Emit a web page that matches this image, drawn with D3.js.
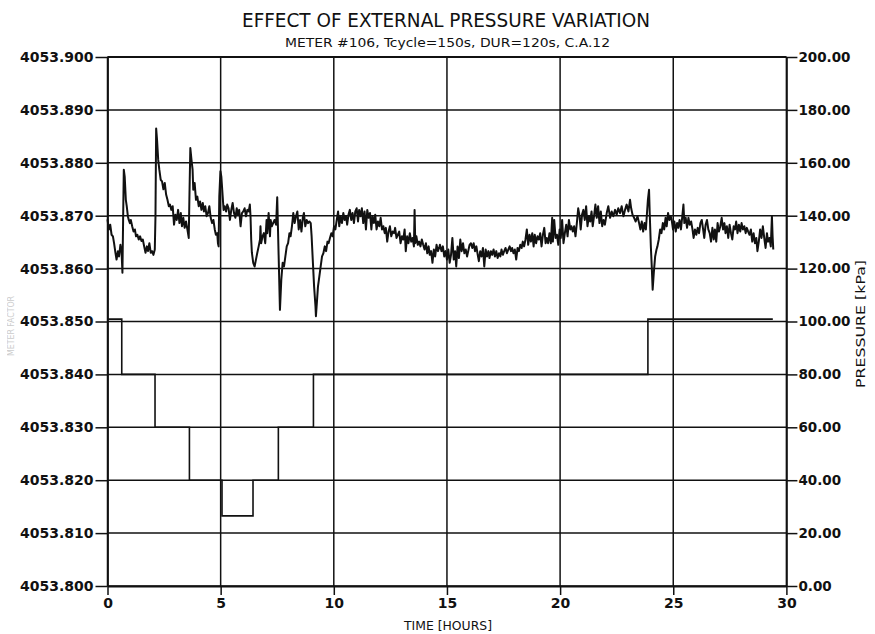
<!DOCTYPE html>
<html>
<head>
<meta charset="utf-8">
<script src="https://cdn.jsdelivr.net/npm/d3@7"></script>
<style>
  html, body { margin: 0; padding: 0; background: #fff; }
  svg { display: block; }
</style>
</head>
<body>
<svg id="chart" width="875" height="634"></svg>
<script>
// Meter factor readings: [elapsed hours, meter factor]
const meterSeries = [
  [0.00,4053.8693],[0.06,4053.8674],[0.12,4053.8683],[0.18,4053.8664],[0.24,4053.8661],[0.29,4053.8648],
  [0.35,4053.8630],[0.40,4053.8617],[0.46,4053.8633],[0.51,4053.8623],[0.57,4053.8645],[0.62,4053.8633],
  [0.66,4053.8592],[0.69,4053.8692],[0.72,4053.8787],[0.76,4053.8774],[0.81,4053.8730],[0.85,4053.8718],
  [0.90,4053.8699],[0.94,4053.8692],[0.99,4053.8686],[1.03,4053.8692],[1.09,4053.8680],[1.15,4053.8670],
  [1.21,4053.8674],[1.26,4053.8661],[1.32,4053.8664],[1.38,4053.8655],[1.44,4053.8661],[1.50,4053.8652],
  [1.56,4053.8655],[1.62,4053.8642],[1.68,4053.8630],[1.74,4053.8642],[1.79,4053.8633],[1.85,4053.8648],
  [1.91,4053.8630],[1.97,4053.8633],[2.03,4053.8626],[2.09,4053.8636],[2.12,4053.8699],[2.15,4053.8865],
  [2.19,4053.8843],[2.24,4053.8806],[2.29,4053.8787],[2.35,4053.8768],[2.41,4053.8765],[2.47,4053.8750],
  [2.53,4053.8762],[2.59,4053.8740],[2.65,4053.8730],[2.71,4053.8718],[2.76,4053.8721],[2.82,4053.8711],
  [2.88,4053.8718],[2.94,4053.8683],[3.00,4053.8702],[3.06,4053.8692],[3.12,4053.8711],[3.18,4053.8686],
  [3.24,4053.8705],[3.29,4053.8680],[3.35,4053.8696],[3.41,4053.8677],[3.47,4053.8689],[3.53,4053.8674],
  [3.59,4053.8658],[3.62,4053.8736],[3.66,4053.8828],[3.71,4053.8806],[3.76,4053.8787],[3.79,4053.8749],
  [3.85,4053.8762],[3.91,4053.8730],[3.97,4053.8736],[4.03,4053.8718],[4.09,4053.8727],[4.15,4053.8711],
  [4.21,4053.8724],[4.26,4053.8708],[4.32,4053.8718],[4.38,4053.8699],[4.44,4053.8705],[4.50,4053.8718],
  [4.56,4053.8696],[4.62,4053.8686],[4.68,4053.8692],[4.74,4053.8674],[4.79,4053.8664],[4.85,4053.8667],
  [4.88,4053.8648],[4.91,4053.8642],[4.94,4053.8736],[4.99,4053.8784],[5.03,4053.8774],[5.09,4053.8736],
  [5.13,4053.8711],[5.18,4053.8718],[5.24,4053.8708],[5.29,4053.8721],[5.35,4053.8714],[5.41,4053.8692],
  [5.47,4053.8711],[5.53,4053.8724],[5.59,4053.8705],[5.65,4053.8696],[5.71,4053.8714],[5.76,4053.8702],
  [5.82,4053.8711],[5.88,4053.8680],[5.94,4053.8705],[6.00,4053.8708],[6.06,4053.8714],[6.12,4053.8699],
  [6.18,4053.8711],[6.24,4053.8708],[6.29,4053.8721],[6.32,4053.8699],[6.35,4053.8655],[6.38,4053.8630],
  [6.44,4053.8611],[6.50,4053.8604],[6.56,4053.8617],[6.62,4053.8630],[6.68,4053.8642],[6.74,4053.8655],
  [6.76,4053.8680],[6.79,4053.8648],[6.85,4053.8661],[6.91,4053.8667],[6.97,4053.8648],[7.03,4053.8692],
  [7.06,4053.8667],[7.12,4053.8705],[7.18,4053.8661],[7.21,4053.8692],[7.26,4053.8680],[7.32,4053.8686],
  [7.38,4053.8692],[7.45,4053.8683],[7.50,4053.8735],[7.62,4053.8522],[7.68,4053.8579],[7.74,4053.8611],
  [7.80,4053.8604],[7.86,4053.8623],[7.92,4053.8642],[7.98,4053.8648],[8.04,4053.8667],[8.09,4053.8661],
  [8.15,4053.8680],[8.21,4053.8705],[8.27,4053.8686],[8.33,4053.8699],[8.39,4053.8708],[8.45,4053.8674],
  [8.51,4053.8692],[8.57,4053.8670],[8.63,4053.8696],[8.68,4053.8705],[8.74,4053.8680],[8.80,4053.8692],
  [8.86,4053.8686],[8.92,4053.8689],[8.98,4053.8686],[9.02,4053.8661],[9.07,4053.8617],[9.13,4053.8566],
  [9.19,4053.8529],[9.21,4053.8510],[9.26,4053.8541],[9.30,4053.8566],[9.36,4053.8585],[9.42,4053.8604],
  [9.48,4053.8623],[9.54,4053.8629],[9.60,4053.8642],[9.66,4053.8633],[9.72,4053.8651],[9.77,4053.8648],
  [9.83,4053.8658],[9.89,4053.8667],[9.95,4053.8661],[10.01,4053.8680],[10.07,4053.8674],[10.13,4053.8692],
  [10.19,4053.8708],[10.24,4053.8680],[10.30,4053.8699],[10.36,4053.8686],[10.42,4053.8705],[10.48,4053.8692],
  [10.54,4053.8699],[10.59,4053.8683],[10.65,4053.8702],[10.71,4053.8711],[10.77,4053.8692],[10.83,4053.8705],
  [10.89,4053.8686],[10.95,4053.8708],[11.01,4053.8714],[11.07,4053.8689],[11.12,4053.8711],[11.18,4053.8699],
  [11.24,4053.8714],[11.30,4053.8686],[11.36,4053.8708],[11.42,4053.8674],[11.48,4053.8711],[11.54,4053.8696],
  [11.60,4053.8705],[11.66,4053.8674],[11.71,4053.8699],[11.77,4053.8686],[11.83,4053.8702],[11.89,4053.8674],
  [11.95,4053.8689],[12.01,4053.8680],[12.07,4053.8696],[12.13,4053.8674],[12.19,4053.8680],[12.25,4053.8667],
  [12.30,4053.8677],[12.36,4053.8651],[12.42,4053.8670],[12.48,4053.8680],[12.54,4053.8661],[12.60,4053.8670],
  [12.66,4053.8667],[12.71,4053.8677],[12.77,4053.8658],[12.83,4053.8664],[12.89,4053.8670],[12.95,4053.8648],
  [13.01,4053.8661],[13.07,4053.8655],[13.13,4053.8674],[13.18,4053.8633],[13.24,4053.8661],[13.30,4053.8648],
  [13.36,4053.8667],[13.42,4053.8651],[13.48,4053.8658],[13.54,4053.8642],[13.57,4053.8711],[13.60,4053.8648],
  [13.65,4053.8661],[13.71,4053.8645],[13.77,4053.8651],[13.83,4053.8642],[13.89,4053.8655],[13.95,4053.8645],
  [14.01,4053.8636],[14.07,4053.8648],[14.13,4053.8629],[14.19,4053.8642],[14.24,4053.8626],[14.30,4053.8633],
  [14.36,4053.8611],[14.42,4053.8636],[14.48,4053.8623],[14.54,4053.8645],[14.60,4053.8633],[14.66,4053.8640],
  [14.69,4053.8645],[14.76,4053.8633],[14.82,4053.8642],[14.88,4053.8623],[14.94,4053.8633],[15.00,4053.8617],
  [15.06,4053.8636],[15.12,4053.8611],[15.18,4053.8626],[15.24,4053.8658],[15.30,4053.8617],[15.36,4053.8633],
  [15.41,4053.8604],[15.47,4053.8642],[15.53,4053.8620],[15.59,4053.8655],[15.65,4053.8633],[15.71,4053.8648],
  [15.77,4053.8629],[15.83,4053.8636],[15.89,4053.8623],[15.94,4053.8633],[16.00,4053.8645],[16.06,4053.8648],
  [16.12,4053.8639],[16.18,4053.8648],[16.24,4053.8633],[16.30,4053.8642],[16.36,4053.8626],[16.41,4053.8614],
  [16.47,4053.8633],[16.53,4053.8623],[16.59,4053.8639],[16.65,4053.8604],[16.71,4053.8636],[16.77,4053.8623],
  [16.83,4053.8633],[16.88,4053.8620],[16.94,4053.8633],[17.00,4053.8626],[17.06,4053.8636],[17.12,4053.8623],
  [17.18,4053.8633],[17.24,4053.8620],[17.30,4053.8629],[17.36,4053.8623],[17.41,4053.8636],[17.47,4053.8626],
  [17.53,4053.8633],[17.59,4053.8639],[17.65,4053.8629],[17.71,4053.8636],[17.77,4053.8642],[17.83,4053.8633],
  [17.88,4053.8639],[17.94,4053.8629],[18.00,4053.8636],[18.06,4053.8617],[18.12,4053.8639],[18.18,4053.8633],
  [18.24,4053.8645],[18.30,4053.8639],[18.35,4053.8651],[18.41,4053.8642],[18.47,4053.8655],[18.53,4053.8674],
  [18.59,4053.8645],[18.65,4053.8664],[18.71,4053.8651],[18.77,4053.8667],[18.83,4053.8642],[18.88,4053.8664],
  [18.94,4053.8648],[19.00,4053.8661],[19.06,4053.8655],[19.12,4053.8667],[19.18,4053.8642],[19.24,4053.8664],
  [19.30,4053.8677],[19.36,4053.8648],[19.41,4053.8658],[19.47,4053.8648],[19.53,4053.8667],[19.59,4053.8648],
  [19.65,4053.8696],[19.68,4053.8651],[19.74,4053.8692],[19.80,4053.8658],[19.86,4053.8664],[19.92,4053.8645],
  [19.98,4053.8674],[20.03,4053.8658],[20.09,4053.8692],[20.15,4053.8648],[20.21,4053.8667],[20.27,4053.8683],
  [20.33,4053.8661],[20.39,4053.8692],[20.45,4053.8674],[20.50,4053.8680],[20.56,4053.8670],[20.62,4053.8680],
  [20.68,4053.8661],[20.74,4053.8686],[20.80,4053.8714],[20.86,4053.8699],[20.91,4053.8674],[20.97,4053.8702],
  [21.03,4053.8711],[21.09,4053.8692],[21.15,4053.8718],[21.21,4053.8680],[21.27,4053.8699],[21.33,4053.8689],
  [21.39,4053.8708],[21.44,4053.8680],[21.50,4053.8699],[21.56,4053.8721],[21.62,4053.8696],[21.68,4053.8718],
  [21.74,4053.8686],[21.80,4053.8708],[21.86,4053.8680],[21.92,4053.8692],[21.98,4053.8683],[22.06,4053.8705],
  [22.13,4053.8718],[22.21,4053.8696],[22.28,4053.8708],[22.35,4053.8699],[22.43,4053.8711],[22.50,4053.8702],
  [22.57,4053.8714],[22.65,4053.8705],[22.72,4053.8718],[22.80,4053.8699],[22.87,4053.8711],[22.94,4053.8721],
  [23.02,4053.8708],[23.09,4053.8730],[23.14,4053.8714],[23.20,4053.8702],[23.27,4053.8696],[23.34,4053.8689],
  [23.42,4053.8699],[23.49,4053.8686],[23.55,4053.8674],[23.61,4053.8689],[23.67,4053.8670],[23.73,4053.8686],
  [23.79,4053.8674],[23.83,4053.8699],[23.88,4053.8730],[23.93,4053.8749],[23.96,4053.8705],[24.01,4053.8642],
  [24.05,4053.8604],[24.09,4053.8560],[24.14,4053.8592],[24.20,4053.8623],[24.26,4053.8636],[24.30,4053.8642],
  [24.36,4053.8655],[24.42,4053.8674],[24.48,4053.8667],[24.54,4053.8686],[24.60,4053.8674],[24.66,4053.8696],
  [24.71,4053.8680],[24.77,4053.8705],[24.83,4053.8692],[24.89,4053.8699],[24.93,4053.8692],[24.99,4053.8674],
  [25.05,4053.8689],[25.11,4053.8670],[25.17,4053.8686],[25.22,4053.8677],[25.28,4053.8692],[25.34,4053.8674],
  [25.40,4053.8699],[25.45,4053.8721],[25.49,4053.8686],[25.55,4053.8696],[25.61,4053.8677],[25.67,4053.8696],
  [25.73,4053.8683],[25.79,4053.8689],[25.85,4053.8674],[25.90,4053.8658],[25.96,4053.8674],[26.02,4053.8664],
  [26.08,4053.8677],[26.14,4053.8667],[26.20,4053.8686],[26.26,4053.8692],[26.32,4053.8674],[26.37,4053.8658],
  [26.43,4053.8683],[26.49,4053.8692],[26.55,4053.8674],[26.61,4053.8667],[26.67,4053.8651],[26.73,4053.8677],
  [26.79,4053.8655],[26.84,4053.8674],[26.90,4053.8651],[26.96,4053.8686],[27.02,4053.8670],[27.08,4053.8680],
  [27.14,4053.8696],[27.20,4053.8674],[27.26,4053.8686],[27.31,4053.8667],[27.37,4053.8680],[27.43,4053.8658],
  [27.49,4053.8683],[27.55,4053.8667],[27.61,4053.8655],[27.67,4053.8680],[27.73,4053.8674],[27.78,4053.8689],
  [27.84,4053.8667],[27.90,4053.8683],[27.96,4053.8670],[28.02,4053.8686],[28.08,4053.8674],[28.14,4053.8680],
  [28.20,4053.8667],[28.25,4053.8677],[28.31,4053.8670],[28.37,4053.8664],[28.43,4053.8674],[28.49,4053.8651],
  [28.55,4053.8667],[28.61,4053.8648],[28.67,4053.8658],[28.72,4053.8633],[28.78,4053.8651],[28.84,4053.8674],
  [28.90,4053.8658],[28.96,4053.8680],[29.02,4053.8658],[29.08,4053.8639],[29.14,4053.8667],[29.19,4053.8651],
  [29.25,4053.8658],[29.31,4053.8642],[29.36,4053.8699],[29.39,4053.8661],[29.42,4053.8636]
];

// External pressure schedule (step changes)
const pressureHours = [0, 0.63, 2.10, 3.62, 5.06, 6.43, 7.55, 9.10, 23.88, 29.40];
const pressureKPa   = [100.9, 80, 60, 40, 26.5, 40, 60, 80, 100.9, 100.9];

// Axis tick values
const hourTicks = [0, 5, 10, 15, 20, 25, 30];
const meterTicks = [4053.800, 4053.810, 4053.820, 4053.830, 4053.840, 4053.850,
                    4053.860, 4053.870, 4053.880, 4053.890, 4053.900];
const pressureTicks = [0, 20, 40, 60, 80, 100, 120, 140, 160, 180, 200];

const titleText = "EFFECT OF EXTERNAL PRESSURE VARIATION";
const subtitleText = "METER #106,  Tcycle=150s, DUR=120s, C.A.12";
const xLabel = "TIME [HOURS]";
const rightLabel = "PRESSURE [kPa]";
const leftLabel = "METER FACTOR";

const svg = d3.select("#chart");
const plot = { left: 107.5, right: 786.4, top: 57, bottom: 586 };

const x = d3.scaleLinear().domain([0, 30]).range([plot.left, plot.right]);
const yMeter = d3.scaleLinear().domain([4053.800, 4053.900]).range([plot.bottom, plot.top]);
const yPress = d3.scaleLinear().domain([0, 200]).range([plot.bottom, plot.top]);

const ink = "#111";
const tickFont = "'DejaVu Sans', sans-serif";

// Grid lines
const grid = svg.append("g").attr("stroke", ink).attr("stroke-width", 1.5);
grid.selectAll("line.h").data(meterTicks).join("line")
  .attr("x1", plot.left).attr("x2", plot.right)
  .attr("y1", d => yMeter(d)).attr("y2", d => yMeter(d));
grid.selectAll("line.v").data(hourTicks).join("line")
  .attr("y1", plot.top).attr("y2", plot.bottom)
  .attr("x1", d => x(d)).attr("x2", d => x(d));

// Axes
function styleAxis(size) {
  return g => {
    g.select(".domain").attr("stroke", ink).attr("stroke-width", 1.8);
    g.selectAll(".tick line").attr("stroke", ink).attr("stroke-width", 1.5);
    g.selectAll(".tick text")
      .attr("fill", ink)
      .attr("font-family", tickFont)
      .attr("font-weight", "bold")
      .attr("font-size", size);
  };
}

svg.append("g")
  .attr("transform", `translate(${plot.left},0)`)
  .call(d3.axisLeft(yMeter).tickValues(meterTicks).tickFormat(d3.format(".3f"))
    .tickSize(12).tickSizeOuter(0).tickPadding(2))
  .call(styleAxis(14));

svg.append("g")
  .attr("transform", `translate(${plot.right},0)`)
  .call(d3.axisRight(yPress).tickValues(pressureTicks).tickFormat(d3.format(".2f"))
    .tickSize(11).tickSizeOuter(0).tickPadding(1))
  .call(styleAxis(13.5));

svg.append("g")
  .attr("transform", `translate(0,${plot.bottom})`)
  .call(d3.axisBottom(x).tickValues(hourTicks).tickFormat(d3.format("d"))
    .tickSize(9).tickSizeOuter(0).tickPadding(3))
  .call(styleAxis(14));

// Top frame
svg.append("line")
  .attr("x1", plot.left).attr("x2", plot.right)
  .attr("y1", plot.top).attr("y2", plot.top)
  .attr("stroke", ink).attr("stroke-width", 1.8);

// Pressure step trace
svg.append("path")
  .datum(pressureHours.map((h, i) => [h, pressureKPa[i]]))
  .attr("fill", "none")
  .attr("stroke", ink)
  .attr("stroke-width", 1.6)
  .attr("d", d3.line().curve(d3.curveStepAfter)
    .x(d => x(d[0])).y(d => yPress(d[1])));

// Meter factor trace
svg.append("path")
  .datum(meterSeries)
  .attr("fill", "none")
  .attr("stroke", ink)
  .attr("stroke-width", 2)
  .attr("stroke-linejoin", "round")
  .attr("d", d3.line().x(d => x(d[0])).y(d => yMeter(d[1])));

// Titles and axis labels
const narrow = "'DejaVu Sans Condensed', 'DejaVu Sans', sans-serif";
svg.append("text")
  .attr("x", 242).attr("y", 27)
  .attr("textLength", 408).attr("lengthAdjust", "spacingAndGlyphs")
  .attr("font-family", narrow).attr("font-size", 19).attr("fill", ink)
  .text(titleText);

svg.append("text")
  .attr("x", 285).attr("y", 47)
  .attr("textLength", 325).attr("lengthAdjust", "spacingAndGlyphs")
  .attr("font-family", narrow).attr("font-size", 13).attr("fill", ink)
  .text(subtitleText);

svg.append("text")
  .attr("x", 404).attr("y", 630)
  .attr("textLength", 88).attr("lengthAdjust", "spacingAndGlyphs")
  .attr("font-family", narrow).attr("font-size", 13).attr("fill", ink)
  .text(xLabel);

svg.append("text")
  .attr("transform", "translate(865,388) rotate(-90)")
  .attr("textLength", 128).attr("lengthAdjust", "spacingAndGlyphs")
  .attr("font-family", narrow).attr("font-size", 13).attr("fill", ink)
  .text(rightLabel);

svg.append("text")
  .attr("transform", "translate(14,356) rotate(-90)")
  .attr("textLength", 60).attr("lengthAdjust", "spacingAndGlyphs")
  .attr("font-family", narrow).attr("font-size", 8).attr("fill", "#999")
  .attr("opacity", 0.5)
  .text(leftLabel);
</script>
</body>
</html>
